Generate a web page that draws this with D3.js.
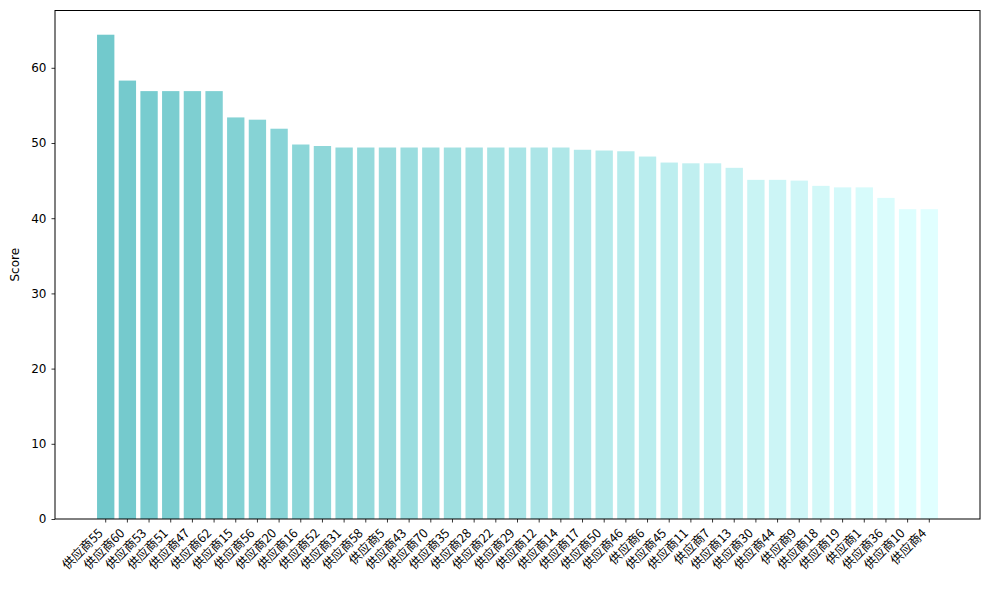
<!DOCTYPE html>
<html>
<head>
<meta charset="utf-8">
<script src="https://cdn.jsdelivr.net/npm/d3@7"></script>
<style>
  body{margin:0;background:#fff;}
  svg text{font-family:"DejaVu Sans","Noto Sans CJK SC",sans-serif;fill:#000;}
  .xl text{font-family:"Noto Sans CJK SC",sans-serif;}
</style>
</head>
<body>
<div id="chart"></div>
<script>
// 供应商得分 (降序)
const suppliers = ["供应商55","供应商60","供应商53","供应商51","供应商47","供应商62","供应商15","供应商56","供应商20","供应商16","供应商52","供应商31","供应商58","供应商5","供应商43","供应商70","供应商35","供应商28","供应商22","供应商29","供应商12","供应商14","供应商17","供应商50","供应商46","供应商6","供应商45","供应商11","供应商7","供应商13","供应商30","供应商44","供应商9","供应商18","供应商19","供应商1","供应商36","供应商10","供应商4"];
const scores = [64.4,58.3,56.9,56.9,56.9,56.9,53.4,53.1,51.9,49.8,49.6,49.4,49.4,49.4,49.4,49.4,49.4,49.4,49.4,49.4,49.4,49.4,49.1,49.0,48.9,48.2,47.4,47.3,47.3,46.7,45.1,45.1,45.0,44.3,44.1,44.1,42.7,41.2,41.2];
const yTicks = [0,10,20,30,40,50,60];

const W=989, H=590, L=55, R=980, T=10.5, B=519;
const svg = d3.select("#chart").append("svg").attr("width",W).attr("height",H);

const n = suppliers.length, bw = 0.8;
const pad = (n-1+bw)*0.05;
const x = d3.scaleLinear().domain([-bw/2-pad, n-1+bw/2+pad]).range([L,R]);
const ymax = d3.max(scores)*1.05;
const y = d3.scaleLinear().domain([0,ymax]).range([B,T]);
const color = d3.scaleLinear().domain([0,n-1]).range(["#72c9cc","#e0ffff"]).interpolate(d3.interpolateRgb);

svg.append("g").selectAll("rect").data(scores).join("rect")
  .attr("x",(d,i)=>x(i-bw/2)).attr("width",x(bw)-x(0))
  .attr("y",d=>y(d)).attr("height",d=>B-y(d))
  .attr("fill",(d,i)=>color(i));

// y axis
const ya = svg.append("g").attr("transform",`translate(${L},0)`)
  .call(d3.axisLeft(y).tickValues(yTicks).tickSize(3.5).tickPadding(5).tickFormat(d3.format("d")));
ya.select(".domain").remove();
ya.selectAll("text").attr("font-size",12);
ya.selectAll("line").attr("stroke","#000").attr("stroke-width",0.8);

// x axis, labels rotated 45° and right-aligned at the tick
const xa = svg.append("g").attr("class","xl").attr("transform",`translate(0,${B})`);
xa.selectAll("line").data(suppliers).join("line")
  .attr("x1",(d,i)=>x(i)).attr("x2",(d,i)=>x(i)).attr("y1",0).attr("y2",3.5)
  .attr("stroke","#000").attr("stroke-width",0.8);
xa.selectAll("text").data(suppliers).join("text")
  .attr("transform",(d,i)=>`translate(${x(i)-2},${15}) rotate(-45)`)
  .attr("text-anchor","end").attr("font-size",12.5).text(d=>d);

// frame
svg.append("rect").attr("x",L).attr("y",T).attr("width",R-L).attr("height",B-T)
  .attr("fill","none").attr("stroke","#000").attr("stroke-width",1);

svg.append("text").attr("transform",`translate(19,${(T+B)/2}) rotate(-90)`)
  .attr("text-anchor","middle").attr("font-size",12).text("Score");
</script>
</body>
</html>
